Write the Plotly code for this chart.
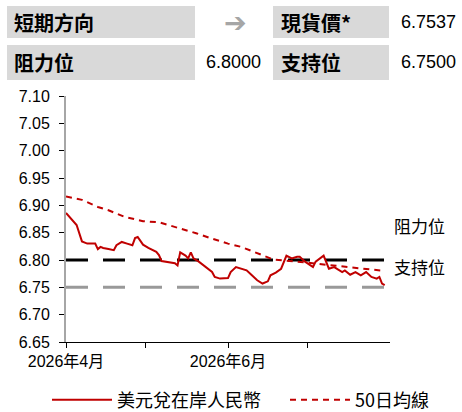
import plotly.graph_objects as go

# ---- data ----
spot_dates = ["2026-04-01","2026-04-05","2026-04-07","2026-04-09","2026-04-12","2026-04-13","2026-04-14",
              "2026-04-15","2026-04-17","2026-04-19","2026-04-20","2026-04-22","2026-04-24","2026-04-26",
              "2026-04-27","2026-04-28","2026-04-30","2026-05-02","2026-05-05","2026-05-06","2026-05-07",
              "2026-05-10","2026-05-12","2026-05-13","2026-05-14","2026-05-16","2026-05-17","2026-05-18",
              "2026-05-19","2026-05-21","2026-05-24","2026-05-26","2026-05-27","2026-05-29","2026-06-01",
              "2026-06-02","2026-06-04","2026-06-06","2026-06-08","2026-06-10","2026-06-12","2026-06-14",
              "2026-06-16","2026-06-17","2026-06-19","2026-06-21","2026-06-23","2026-06-25","2026-06-27",
              "2026-06-28","2026-06-30","2026-07-03","2026-07-04","2026-07-07","2026-07-09","2026-07-11",
              "2026-07-12","2026-07-14","2026-07-15","2026-07-17","2026-07-19","2026-07-21","2026-07-23",
              "2026-07-25","2026-07-27","2026-07-28","2026-07-29","2026-07-30"]
spot_values = [6.886,6.864,6.834,6.830,6.830,6.820,6.824,
               6.822,6.820,6.818,6.827,6.833,6.830,6.827,
               6.840,6.842,6.828,6.822,6.815,6.809,6.798,
               6.796,6.794,6.790,6.814,6.808,6.803,6.814,
               6.803,6.797,6.786,6.778,6.769,6.766,6.767,
               6.778,6.787,6.784,6.781,6.772,6.763,6.757,
               6.761,6.772,6.777,6.784,6.808,6.803,6.806,
               6.806,6.797,6.787,6.797,6.808,6.784,6.787,
               6.784,6.778,6.781,6.773,6.778,6.772,6.778,
               6.769,6.766,6.769,6.757,6.754]

ma_dates = ["2026-04-01","2026-04-07","2026-04-13","2026-04-17","2026-04-23","2026-04-30","2026-05-06",
            "2026-05-12","2026-05-20","2026-05-26","2026-06-01","2026-06-06","2026-06-12","2026-06-18",
            "2026-06-27","2026-07-10","2026-07-17","2026-07-22","2026-07-30"]
ma_values = [6.916,6.910,6.897,6.891,6.879,6.871,6.869,
             6.861,6.849,6.839,6.830,6.824,6.812,6.801,
             6.797,6.790,6.787,6.784,6.780]

level_dates = ["2026-04-01", "2026-07-30"]
resistance = 6.80
support = 6.75

tick_vals = ["2026-04-01", "2026-05-01", "2026-06-01", "2026-07-01"]
tick_text = ["2026年4月", "", "2026年6月", ""]

header_rows = [("短期方向", "➔", "現貨價*", "6.7537"),
               ("阻力位", "6.8000", "支持位", "6.7500")]

series_names = ["美元兌在岸人民幣", "50日均線"]

# ---- layout helpers (pixel -> paper) ----
W, H = 462, 412
ML, MR, MT, MB = 66, 72, 96, 70
PW, PH = W - ML - MR, H - MT - MB
def px(x): return (x - ML) / PW
def py(y): return (H - MB - y) / PH

RED = "#c00000"
NUM_FONT = "Liberation Sans, Arial, sans-serif"
CJK_FONT = "Noto Sans CJK TC, sans-serif"

fig = go.Figure()
fig.add_trace(go.Scatter(x=level_dates, y=[resistance]*2, mode="lines",
                         line=dict(color="#000000", width=3, dash="22px,15px"),
                         showlegend=False, hoverinfo="skip"))
fig.add_trace(go.Scatter(x=level_dates, y=[support]*2, mode="lines",
                         line=dict(color="#999999", width=3, dash="22px,15px"),
                         showlegend=False, hoverinfo="skip"))
fig.add_trace(go.Scatter(x=spot_dates, y=spot_values, mode="lines", name=series_names[0],
                         line=dict(color=RED, width=2), legend="legend"))
fig.add_trace(go.Scatter(x=ma_dates, y=ma_values, mode="lines", name=series_names[1],
                         line=dict(color=RED, width=2, dash="6px,5px"), legend="legend2"))

shapes = []
annotations = []
rows_y = [(6, 38), (45, 80)]
for (y0, y1), (lab1, val1, lab2, val2) in zip(rows_y, header_rows):
    yc = (y0 + y1) / 2
    for x0, x1 in [(7, 195), (273, 389)]:
        shapes.append(dict(type="rect", xref="paper", yref="paper",
                           x0=px(x0), x1=px(x1), y0=py(y1), y1=py(y0),
                           fillcolor="#d9d9d9", line=dict(width=0), layer="below"))
    annotations.append(dict(text="<b>%s</b>" % lab1, x=px(12), y=py(yc), xref="paper", yref="paper",
                            xanchor="left", yanchor="middle", showarrow=False,
                            font=dict(family=CJK_FONT, size=20, color="#000")))
    annotations.append(dict(text="<b>%s</b>" % lab2, x=px(279), y=py(yc), xref="paper", yref="paper",
                            xanchor="left", yanchor="middle", showarrow=False,
                            font=dict(family=CJK_FONT, size=20, color="#000")))
    annotations.append(dict(text=val2, x=px(399), y=py(yc), xref="paper", yref="paper",
                            xanchor="left", yanchor="middle", showarrow=False,
                            font=dict(family=NUM_FONT, size=18, color="#000")))
    if val1 == "➔":
        annotations.append(dict(text=val1, x=px(235), y=py(yc), xref="paper", yref="paper",
                                xanchor="center", yanchor="middle", showarrow=False,
                                font=dict(family="DejaVu Sans", size=27, color="#a6a6a6")))
    else:
        annotations.append(dict(text=val1, x=px(263), y=py(yc), xref="paper", yref="paper",
                                xanchor="right", yanchor="middle", showarrow=False,
                                font=dict(family=NUM_FONT, size=18, color="#000")))

annotations.append(dict(text="阻力位", x=px(392), y=py(225), xref="paper", yref="paper",
                        xanchor="left", yanchor="middle", showarrow=False,
                        font=dict(family=CJK_FONT, size=17, color="#000")))
annotations.append(dict(text="支持位", x=px(392), y=py(266), xref="paper", yref="paper",
                        xanchor="left", yanchor="middle", showarrow=False,
                        font=dict(family=CJK_FONT, size=17, color="#000")))

legend_font = dict(family=CJK_FONT + ", " + NUM_FONT, size=18, color="#000")
fig.update_layout(
    width=W, height=H, margin=dict(l=ML, r=MR, t=MT, b=MB),
    paper_bgcolor="white", plot_bgcolor="white",
    shapes=shapes, annotations=annotations,
    font=dict(family=NUM_FONT, size=15, color="#000"),
    legend=dict(orientation="h", xref="container", yref="container",
                x=47 / W, y=1 - 400 / H, xanchor="left", yanchor="middle",
                itemwidth=60, font=legend_font, bgcolor="rgba(0,0,0,0)"),
    legend2=dict(orientation="h", xref="container", yref="container",
                 x=285 / W, y=1 - 400 / H, xanchor="left", yanchor="middle",
                 itemwidth=60, font=legend_font, bgcolor="rgba(0,0,0,0)"),
    xaxis=dict(type="date", range=["2026-04-01", "2026-08-01"],
               tickmode="array", tickvals=tick_vals, ticktext=tick_text,
               showgrid=False, zeroline=False, showline=True, linecolor="#000", linewidth=1,
               ticks="outside", ticklen=5, tickcolor="#000",
               tickfont=dict(family=NUM_FONT + ", " + CJK_FONT, size=16, color="#000")),
    yaxis=dict(range=[6.65, 7.10], tickmode="array",
               tickvals=[6.65, 6.70, 6.75, 6.80, 6.85, 6.90, 6.95, 7.00, 7.05, 7.10],
               tickformat=".2f", showgrid=False, zeroline=False,
               showline=True, linecolor="#a6a6a6", linewidth=2,
               ticks="outside", ticklen=5, tickcolor="#000", ticklabelstandoff=6,
               tickfont=dict(family=NUM_FONT, size=16, color="#000")),
)

fig.write_html("out.html", config={"displayModeBar": False},
               post_script="document.body.style.margin='0';document.body.style.overflow='hidden';")
